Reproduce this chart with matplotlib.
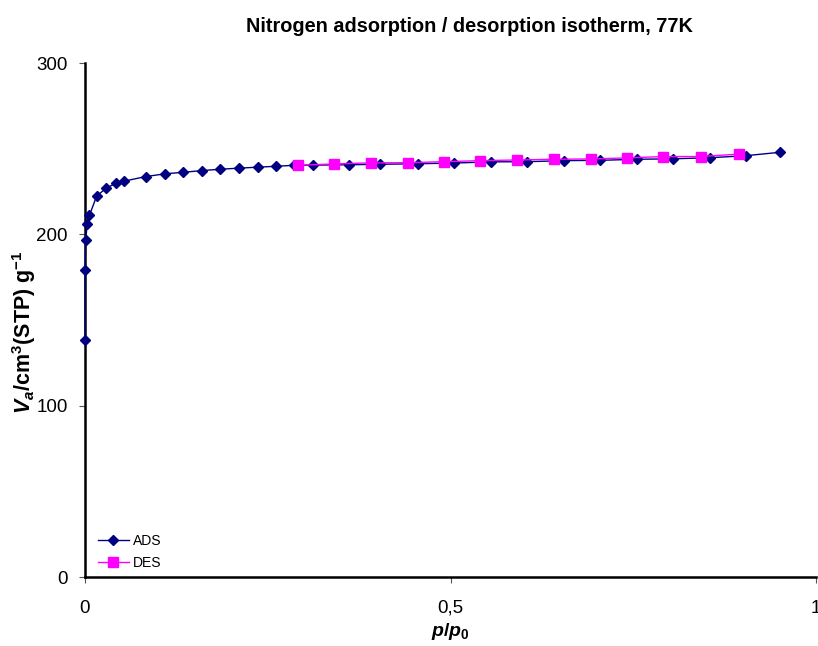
import matplotlib
matplotlib.use("Agg")
import matplotlib.pyplot as plt
from matplotlib.ticker import FixedLocator, FixedFormatter

# N2 isotherm at 77 K, relative pressure vs adsorbed volume
ads_p = [0.000, 0.000, 0.001, 0.003, 0.006, 0.016, 0.029, 0.042, 0.053, 0.083,
         0.109, 0.134, 0.160, 0.185, 0.210, 0.236, 0.261, 0.286, 0.312, 0.361,
         0.404, 0.455, 0.505, 0.555, 0.605, 0.655, 0.705, 0.755, 0.805, 0.855,
         0.904, 0.951]
ads_v = [138.3, 179.0, 196.7, 206.0, 211.0, 222.4, 226.9, 229.8, 231.0, 233.7,
         235.3, 236.2, 237.2, 238.0, 238.6, 239.2, 239.7, 240.3, 240.4, 240.6,
         240.9, 241.2, 241.6, 242.3, 242.4, 243.0, 243.2, 243.8, 244.1, 244.7,
         245.9, 247.9]

des_p = [0.894, 0.842, 0.791, 0.741, 0.692, 0.641, 0.591, 0.541, 0.491, 0.442,
         0.391, 0.341, 0.291]
des_v = [246.8, 245.4, 245.4, 244.6, 244.0, 243.8, 243.4, 243.0, 242.4, 241.8,
         241.7, 241.1, 240.3]

x_ticks = [0, 0.5, 1]
x_tick_labels = ["0", "0,5", "1"]
y_ticks = [0, 100, 200, 300]

plt.rcParams["font.family"] = ["Liberation Sans", "DejaVu Sans"]
plt.rcParams["mathtext.fontset"] = "custom"
plt.rcParams["mathtext.rm"] = "Liberation Sans:bold"
plt.rcParams["mathtext.bf"] = "Liberation Sans:bold"
plt.rcParams["mathtext.it"] = "Liberation Sans:bold:italic"

fig = plt.figure(figsize=(8.18, 6.46), dpi=100)
ax = fig.add_axes([85 / 818, 69 / 646, 731 / 818, 514 / 646])

ax.plot(ads_p, ads_v, color="#000080", lw=1.0, marker="D", ms=5.2,
        mec="#000080", mfc="#000080", label="ADS", zorder=3, clip_on=False)
ax.plot(des_p, des_v, color="#FF00FF", lw=1.0, marker="s", ms=6.5,
        mec="#FF00FF", mfc="#FF00FF", label="DES", zorder=4, clip_on=False)

ax.set_xlim(0, 1)
ax.set_ylim(0, 300)
ax.xaxis.set_major_locator(FixedLocator(x_ticks))
ax.xaxis.set_major_formatter(FixedFormatter(x_tick_labels))
ax.yaxis.set_major_locator(FixedLocator(y_ticks))

for side in ("top", "right"):
    ax.spines[side].set_visible(False)
for side in ("left", "bottom"):
    ax.spines[side].set_linewidth(1.8)
    ax.spines[side].set_color("black")

ax.tick_params(direction="out", length=4.5, width=0.8, color="#555555",
               labelsize=13.5)
ax.tick_params(axis="x", pad=12)
ax.tick_params(axis="y", pad=8)

ax.set_xlabel(r"$p/p_\mathrm{0}$", fontsize=14, fontweight="bold", labelpad=3)
ax.set_ylabel(r"$V_a$/cm$^3$(STP) g$^{-1}$", fontsize=15.5, fontweight="bold")
ax.yaxis.set_label_coords(-0.064, 0.477)

fig.text(469 / 818, 1 - 32 / 646, "Nitrogen adsorption / desorption isotherm, 77K",
         ha="center", va="baseline", fontsize=14.3, fontweight="bold")

ax.legend(loc="lower left", bbox_to_anchor=(0.018, 0.013), frameon=False,
          fontsize=10, handlelength=2.2, handletextpad=0.3, labelspacing=0.6,
          borderpad=0, borderaxespad=0)

fig.savefig("out.png", dpi=100)
